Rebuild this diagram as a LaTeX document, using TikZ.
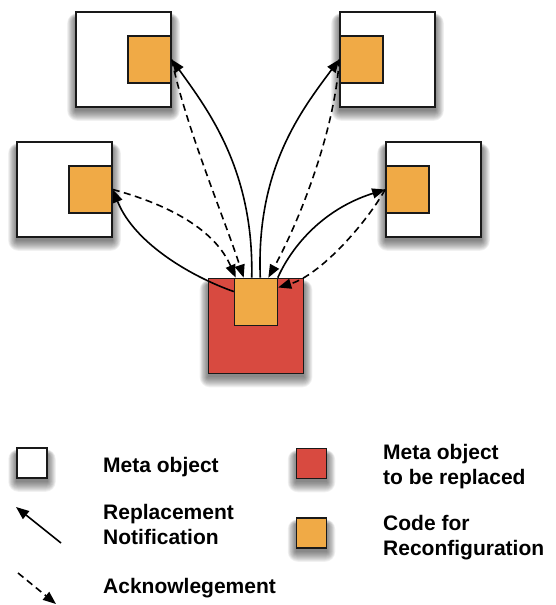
\documentclass[tikz,border=0pt]{standalone}
\usepackage{fontspec}
\setmainfont{Liberation Sans}
\usetikzlibrary{arrows.meta}
\definecolor{codeorange}{RGB}{240,170,70}
\definecolor{metared}{RGB}{216,74,64}
\pgfdeclarelayer{shadowlayer}
\pgfsetlayers{shadowlayer,main}
% soft drop shadow below a node, built from stacked translucent rectangles
\newcommand\dropshadow[1]{%
  \foreach \s in {0,1,...,10}{%
    \fill[black,opacity=0.055,rounded corners=\s pt]
      ([shift={(-0.8*\s,7-0.5*\s)}]#1.north west)
      rectangle ([shift={(0.8*\s,3+\s)}]#1.south east);
  }%
}
\begin{document}
\begin{tikzpicture}[x=1pt,y=-1pt,
  metabox/.style={draw=black!90,line width=1.6pt,fill=white,inner sep=0pt,
      minimum width=95pt,minimum height=95pt},
  replaced/.style={metabox,fill=metared},
  codebox/.style={draw=black!90,line width=1.4pt,fill=codeorange,inner sep=0pt,
      minimum width=43pt,minimum height=47pt},
  keybox/.style={draw=black!90,line width=1.5pt,inner sep=0pt,
      minimum width=30pt,minimum height=30pt},
  notify/.style={line width=1.6pt,-{Triangle[length=13pt,width=10pt]}},
  ack/.style={notify,dash pattern=on 7pt off 4.5pt},
  keytext/.style={font=\bfseries\fontsize{21}{25}\selectfont,anchor=base west,
      inner sep=0pt,align=left}]
\useasboundingbox (0,0) rectangle (555,605);

% meta objects with their reconfiguration code
\node[metabox] (tl) at (123.5,59.5) {};
\node[codebox,anchor=east] (tlc) at (tl.east) {};
\node[metabox] (tr) at (387.5,59.5) {};
\node[codebox,anchor=west] (trc) at (tr.west) {};
\node[metabox] (lm) at (64.5,189.5) {};
\node[codebox,anchor=east] (lmc) at (lm.east) {};
\node[metabox] (rm) at (433.5,189.5) {};
\node[codebox,anchor=west] (rmc) at (rm.west) {};
\node[replaced] (rd) at (256,326) {};
\node[codebox,anchor=north] (rc) at (rd.north) {};

% replacement notifications
\draw[notify] (rc.100) .. controls (254,170) and (208,110) .. (tlc.east);
\draw[notify] (rc.80) .. controls (256,170) and (300,112) .. (trc.west);
\draw[notify] (rc.155) .. controls (195,278) and (135,245) .. (lmc.east);
\draw[notify] (rc.48) .. controls (290,250) and (320,210) .. (rmc.west);

% acknowledgements
\draw[ack] (tlc.east) .. controls (185,125) and (225,220) .. (rc.117);
\draw[ack] (trc.west) .. controls (335,130) and (300,220) .. (rc.63);
\draw[ack] (lmc.east) .. controls (170,205) and (215,230) .. (rc.130);
\draw[ack] (rmc.west) .. controls (365,225) and (320,275) .. (rc.33);

% legend
\node[keybox,fill=white] (kmeta) at (32,463) {};
\node[keytext] (tmeta) at (103,472) {Meta object};
\coordinate (nfrom) at (61,543);
\coordinate (nto) at (16,507);
\draw[notify] (nfrom) -- (nto);
\node[keytext] (tnotify) at (103,544) {Replacement\\Notification};
\coordinate (afrom) at (18,573);
\coordinate (ato) at (56,604);
\draw[ack] (afrom) -- (ato);
\node[keytext] (tack) at (103,593) {Acknowlegement};
\node[keybox,fill=metared] (kred) at (311.5,463.5) {};
\node[keytext] (tred) at (383,484) {Meta object\\to be replaced};
\node[keybox,fill=codeorange] (kcode) at (311.5,533) {};
\node[keytext] (tcode) at (383,555) {Code for\\Reconfiguration};

% shadows behind the boxes
\begin{pgfonlayer}{shadowlayer}
  \dropshadow{tl}\dropshadow{tr}\dropshadow{lm}\dropshadow{rm}\dropshadow{rd}
  \dropshadow{kmeta}\dropshadow{kred}\dropshadow{kcode}
\end{pgfonlayer}
\end{tikzpicture}
\end{document}
